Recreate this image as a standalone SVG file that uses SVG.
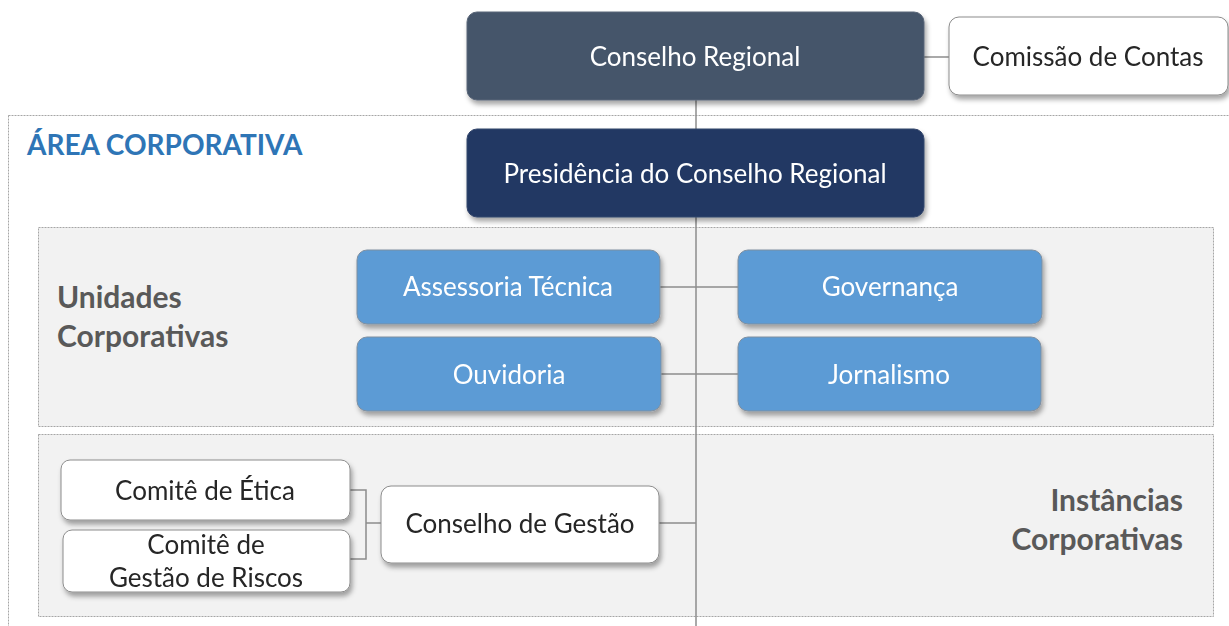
<svg xmlns="http://www.w3.org/2000/svg" width="1229" height="626" viewBox="0 0 1229 626">
<defs>
<filter id="sh" x="-10%" y="-10%" width="125%" height="140%">
<feDropShadow dx="2" dy="4" stdDeviation="2.5" flood-color="#000" flood-opacity="0.35"/>
</filter>
<style>
.area{fill:#F2F2F2;stroke:#A6A6A6;stroke-width:1;stroke-dasharray:2 1}
.outer{fill:none;stroke:#A6A6A6;stroke-width:1;stroke-dasharray:2 1}
.box{filter:url(#sh)}
.t{font-family:Lato,"Liberation Sans",sans-serif;font-size:26px;text-anchor:middle}
.w{fill:#FFFFFF}
.d{fill:#262626}
.lbl{font-family:Lato,"Liberation Sans",sans-serif;font-size:30px;font-weight:bold;fill:#595959}
.con{stroke:#8C8C8C;stroke-width:1.5;fill:none}
</style>
</defs>
<rect width="1229" height="626" fill="#FFFFFF"/>
<rect class="outer" x="8.5" y="115.5" width="1240" height="540"/>
<text x="27" y="155" font-family="Lato,'Liberation Sans',sans-serif" font-size="28" font-weight="bold" fill="#2E75B6">ÁREA CORPORATIVA</text>
<rect class="area" x="38.5" y="227.5" width="1175" height="199"/>
<rect class="area" x="38.5" y="434.5" width="1175" height="182"/>
<text class="lbl" x="57" y="308">Unidades</text>
<text class="lbl" x="57" y="347">Corporativas</text>
<text class="lbl" x="1183" y="511" text-anchor="end">Instâncias</text>
<text class="lbl" x="1183" y="550" text-anchor="end">Corporativas</text>
<g id="connectors" class="con">
<line x1="696" y1="100" x2="696" y2="626"/>
<line x1="924" y1="57" x2="949" y2="57"/>
<line x1="660" y1="287" x2="738" y2="287"/>
<line x1="661" y1="374" x2="738" y2="374"/>
<line x1="659" y1="523" x2="696" y2="523"/>
<polyline points="350,490 366,490 366,559 350,559"/>
<line x1="366" y1="523" x2="381" y2="523"/>
</g>
<g id="conselho-regional" class="box">
<rect x="467" y="12" width="457" height="88" rx="10" fill="#44546A" stroke="#5A6678"/>
<text class="t w" x="695" y="66">Conselho Regional</text>
</g>
<g id="comissao-contas" class="box">
<rect x="949" y="17" width="279" height="78" rx="10" fill="#FFFFFF" stroke="#8C8C8C"/>
<text class="t d" x="1088" y="66">Comissão de Contas</text>
</g>
<g id="presidencia" class="box">
<rect x="467" y="129" width="457" height="88" rx="10" fill="#203864" stroke="#34466B"/>
<text class="t w" x="695" y="183">Presidência do Conselho Regional</text>
</g>
<g id="assessoria" class="box">
<rect x="357" y="250" width="303" height="74" rx="10" fill="#5B9BD5" stroke="#7F8FA0"/>
<text class="t w" x="508" y="296">Assessoria Técnica</text>
</g>
<g id="governanca" class="box">
<rect x="738" y="250" width="304" height="74" rx="10" fill="#5B9BD5" stroke="#7F8FA0"/>
<text class="t w" x="890" y="296">Governança</text>
</g>
<g id="ouvidoria" class="box">
<rect x="357" y="337" width="304" height="74" rx="10" fill="#5B9BD5" stroke="#7F8FA0"/>
<text class="t w" x="509" y="384">Ouvidoria</text>
</g>
<g id="jornalismo" class="box">
<rect x="738" y="337" width="303" height="74" rx="10" fill="#5B9BD5" stroke="#7F8FA0"/>
<text class="t w" x="889" y="384">Jornalismo</text>
</g>
<g id="comite-etica" class="box">
<rect x="61" y="460" width="289" height="60" rx="9" fill="#FFFFFF" stroke="#8C8C8C"/>
<text class="t d" x="205" y="500">Comitê de Ética</text>
</g>
<g id="comite-riscos" class="box">
<rect x="63" y="530" width="287" height="62" rx="9" fill="#FFFFFF" stroke="#8C8C8C"/>
<text class="t d" x="206" y="554">Comitê de</text>
<text class="t d" x="206" y="587">Gestão de Riscos</text>
</g>
<g id="conselho-gestao" class="box">
<rect x="381" y="486" width="278" height="77" rx="10" fill="#FFFFFF" stroke="#8C8C8C"/>
<text class="t d" x="520" y="533">Conselho de Gestão</text>
</g>
</svg>
